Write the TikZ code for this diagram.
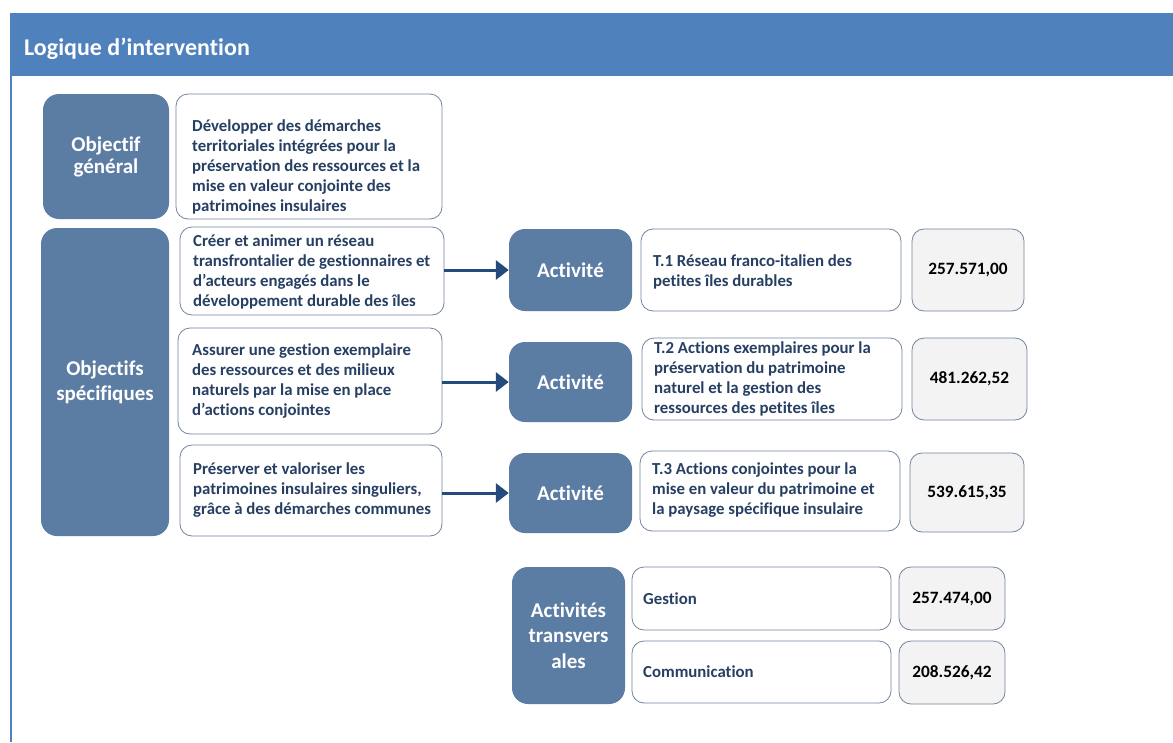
\documentclass[tikz,border=0pt]{standalone}
\usepackage{fontspec}
\setmainfont{Carlito}[Ligatures={NoCommon}]
\usetikzlibrary{arrows.meta}

\definecolor{hdrblue}{HTML}{4F81BD}
\definecolor{darkbox}{HTML}{5B7CA3}
\definecolor{boxline}{HTML}{72849C}
\definecolor{navytext}{HTML}{263F63}
\definecolor{arrowblue}{HTML}{254B7C}
\definecolor{numfill}{HTML}{F3F3F3}

\begin{document}
\begin{tikzpicture}[x=1pt,y=-1pt,
  catbox/.style={fill=darkbox, rounded corners=16pt, text=white,
    font=\bfseries\fontsize{21}{25}\selectfont, align=center, inner sep=0pt},
  textbox/.style={draw=boxline, line width=0.8pt, fill=white, rounded corners=12pt, inner sep=0pt},
  boxtext/.style={anchor=west, align=left, inner sep=0pt, text=navytext,
    font=\bfseries\fontsize{16.8}{20}\selectfont},
  numbox/.style={draw=boxline, line width=0.8pt, fill=numfill, rounded corners=12pt,
    inner sep=0pt, font=\bfseries\fontsize{17.3}{20}\selectfont},
  link/.style={draw=arrowblue, line width=3pt, -{Triangle[length=13pt,width=19pt]}}
]
% page and frame
\useasboundingbox (0,0) rectangle (1173,742);
\fill[white] (0,0) rectangle (1173,742);
\fill[hdrblue] (10,13) rectangle (1173,76);
\draw[hdrblue, line width=2pt] (11,76) -- (11,742);
\node[anchor=base west, inner sep=0pt, text=white, font=\bfseries\fontsize{24}{28}\selectfont]
  (title) at (24,55) {Logique d’intervention};

% general objective
\node[catbox, minimum width=126pt, minimum height=125pt, font=\bfseries\fontsize{21}{22}\selectfont]
  (og) at (106,156.5) {Objectif\\général};
\node[textbox, minimum width=266pt, minimum height=125pt] (ogbox) at (309,156.5) {};
\node[boxtext] (ogt) at (192,167) {Développer des démarches\\territoriales intégrées pour la\\préservation des ressources et la\\mise en valeur conjointe des\\patrimoines insulaires};

% specific objectives
\node[catbox, minimum width=128pt, minimum height=308pt] (os) at (105,382) {Objectifs\\spécifiques};

\node[textbox, minimum width=264pt, minimum height=88pt] (s1) at (312,271) {};
\node[boxtext] (s1t) at (193,272) {Créer et animer un réseau\\transfrontalier de gestionnaires et\\d’acteurs engagés dans le\\développement durable des îles};

\node[textbox, minimum width=264pt, minimum height=106pt] (s2) at (310,381) {};
\node[boxtext] (s2t) at (192,381) {Assurer une gestion exemplaire\\des ressources et des milieux\\naturels par la mise en place\\d’actions conjointes};

\node[textbox, minimum width=262pt, minimum height=91pt] (s3) at (311,490.5) {};
\node[boxtext] (s3t) at (193,490) {Préserver et valoriser les\\patrimoines insulaires singuliers,\\grâce à des démarches communes};

% activities
\node[catbox, minimum width=123pt, minimum height=82pt] (a1) at (570.5,270) {Activité};
\node[catbox, minimum width=123pt, minimum height=80pt] (a2) at (570.5,382) {Activité};
\node[catbox, minimum width=123pt, minimum height=80pt] (a3) at (570.5,493) {Activité};

\draw[link] (s1.east |- a1.west) -- (a1.west);
\draw[link] (s2.east |- a2.west) -- (a2.west);
\draw[link] (s3.east |- a3.west) -- (a3.west);

\node[textbox, minimum width=260pt, minimum height=82pt] (t1) at (771,270) {};
\node[boxtext] (t1t) at (653,272) {T.1 Réseau franco-italien des\\petites îles durables};

\node[textbox, minimum width=260pt, minimum height=82pt] (t2) at (772,379) {};
\node[boxtext] (t2t) at (654,379) {T.2 Actions exemplaires pour la\\préservation du patrimoine\\naturel et la gestion des\\ressources des petites îles};

\node[textbox, minimum width=260pt, minimum height=80pt] (t3) at (770,491) {};
\node[boxtext] (t3t) at (652,490) {T.3 Actions conjointes pour la\\mise en valeur du patrimoine et\\la paysage spécifique insulaire};

\node[numbox, minimum width=112pt, minimum height=82pt] (n1) at (968,270) {257.571,00};
\node[numbox, minimum width=115pt, minimum height=82pt] (n2) at (969.5,379) {481.262,52};
\node[numbox, minimum width=114pt, minimum height=79pt] (n3) at (967,492.5) {539.615,35};

% cross-cutting activities
\node[catbox, minimum width=113pt, minimum height=137pt, font=\bfseries\fontsize{21}{25.5}\selectfont]
  (at) at (568.5,635.5) {Activités\\transvers\\ales};

\node[textbox, minimum width=259pt, minimum height=63pt] (g) at (761.5,598.5) {};
\node[boxtext] (gt) at (643,599) {Gestion};
\node[textbox, minimum width=259pt, minimum height=62pt] (c) at (761.5,672) {};
\node[boxtext] (ct) at (643,672) {Communication};

\node[numbox, minimum width=106pt, minimum height=63pt] (ng) at (952,598.5) {257.474,00};
\node[numbox, minimum width=106pt, minimum height=63pt] (nc) at (952,672.5) {208.526,42};
\end{tikzpicture}
\end{document}
